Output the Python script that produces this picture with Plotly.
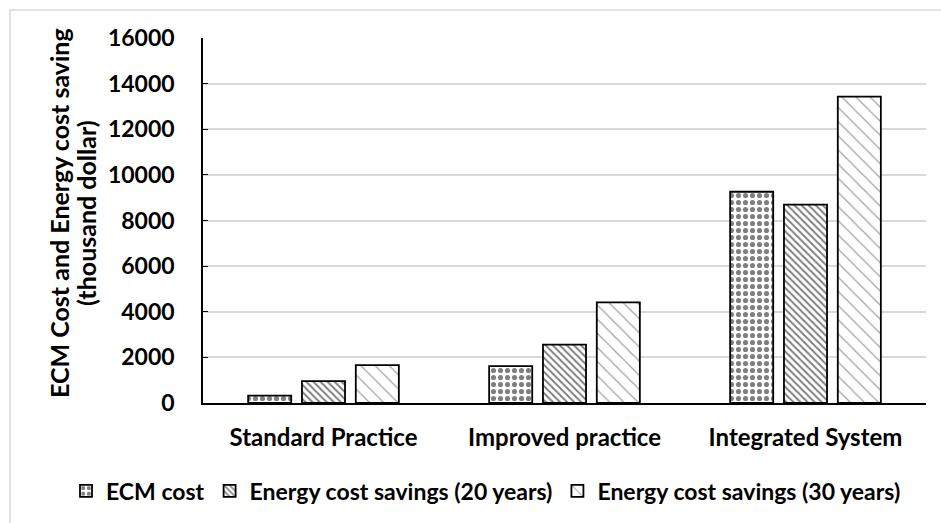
import plotly.graph_objects as go

categories = ["Standard Practice", "Improved practice", "Integrated System"]
series_names = ["ECM cost", "Energy cost savings (20 years)", "Energy cost savings (30 years)"]
ecm_cost = [320, 1620, 9260]
savings_20 = [960, 2560, 8700]
savings_30 = [1660, 4410, 13430]
y_ticks = [0, 2000, 4000, 6000, 8000, 10000, 12000, 14000, 16000]
y_title_lines = ["ECM Cost and Energy cost saving", "(thousand dollar)"]

FONT = "Lato"
W, H = 941, 523
L, R, T, B = 203, 15, 38, 120
pw = W - L - R
ph = H - T - B

patterns = [
    dict(shape=".", size=7, solidity=0.42, fgcolor="black", bgcolor="white"),
    dict(shape="\\", size=5, solidity=0.4, fgcolor="black", bgcolor="white"),
    dict(shape="\\", size=10, solidity=0.12, fgcolor="#444444", bgcolor="white"),
]

fig = go.Figure()
for name, vals, pat in zip(series_names, [ecm_cost, savings_20, savings_30], patterns):
    fig.add_trace(go.Bar(
        name=name, x=categories, y=vals,
        marker=dict(color="white", pattern=pat, line=dict(color="black", width=1.8)),
    ))

annotations = []
for line, xc in zip(y_title_lines, [59, 86]):
    annotations.append(dict(
        text="<b>" + line + "</b>", xref="paper", yref="paper",
        x=(xc - L) / pw, y=(H - B - 213) / ph,
        xanchor="center", yanchor="middle", textangle=-90, showarrow=False,
        font=dict(family=FONT, size=25, color="black"),
    ))

fig.update_layout(
    width=W, height=H,
    margin=dict(l=L, r=R, t=T, b=B, autoexpand=False),
    paper_bgcolor="white", plot_bgcolor="white",
    font=dict(family=FONT, size=24, color="black"),
    barmode="group", bargap=0.33, bargroupgap=0.2,
    showlegend=True,
    legend=dict(orientation="h", xref="paper", yref="paper",
                x=(66 - L) / pw, y=(H - B - 491) / ph, xanchor="left", yanchor="middle",
                font=dict(family=FONT, size=23, color="black", weight="bold"),
                itemwidth=30, tracegroupgap=0, bgcolor="rgba(0,0,0,0)"),
    xaxis=dict(showline=True, linecolor="black", linewidth=1.5, ticks="",
               tickfont=dict(family=FONT, size=24, weight="bold"),
               ticklabelstandoff=12, automargin=False),
    yaxis=dict(range=[0, 16000], tickvals=y_ticks, ticktext=[str(v) for v in y_ticks],
               showgrid=True, gridcolor="#d9d9d9",
               gridwidth=1.5, showline=True, linecolor="black", linewidth=1.5,
               ticks="inside", ticklen=5, tickcolor="black",
               tickfont=dict(family=FONT, size=23, weight="bold"),
               ticklabelstandoff=22, zeroline=False, automargin=False),
    annotations=annotations,
    shapes=[dict(type="rect", xref="paper", yref="paper",
                 x0=(10 - L) / pw, x1=(950 - L) / pw,
                 y0=(H - B - 540) / ph, y1=(H - B - 10) / ph,
                 line=dict(color="#d9d9d9", width=1.5), fillcolor="rgba(0,0,0,0)", layer="below")],
)

fig.write_html("out.html", config={"displayModeBar": False},
               post_script="document.body.style.margin='0';document.body.style.overflow='hidden';")
